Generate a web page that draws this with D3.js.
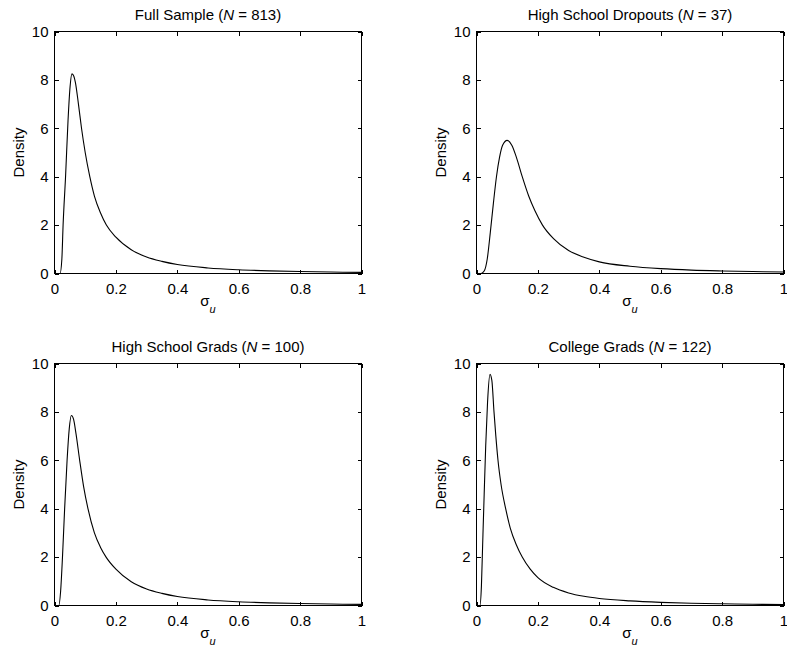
<!DOCTYPE html>
<html>
<head>
<meta charset="utf-8">
<script src="https://cdn.jsdelivr.net/npm/d3@7"></script>
<style>
  body { margin: 0; background: #fff; }
  svg text { font-family: "Liberation Sans", Arial, Helvetica, sans-serif; font-size: 15px; fill: #000; }
</style>
</head>
<body>
<svg id="chart" width="787" height="654"></svg>
<script>
// axis ticks
const xTicks = [0, 0.2, 0.4, 0.6, 0.8, 1];
const yTicks = [0, 2, 4, 6, 8, 10];

// panel titles and sample sizes
const titles = ['Full Sample', 'High School Dropouts', 'High School Grads', 'College Grads'];
const sampleN = [813, 37, 100, 122];

// density curves (sigma_u, density)
const sigmaFull   = [0, 0.018, 0.024, 0.028, 0.036, 0.044, 0.05, 0.057, 0.063, 0.068, 0.078, 0.088, 0.1, 0.115, 0.13, 0.15, 0.169, 0.2, 0.25, 0.3, 0.35, 0.4, 0.5, 0.6, 0.7, 0.8, 0.9, 1.0];
const densFull    = [0, 0,     0.6,   2.0,   4.0,   6.3,   7.6,  8.25,  8.15,  7.9,   7.0,   6.0,   5.0, 4.0,   3.2,  2.5,  2.0,   1.5, 0.98, 0.68, 0.5, 0.37, 0.23, 0.155, 0.11, 0.08, 0.06, 0.045];

const sigmaDrop   = [0, 0.015, 0.025, 0.035, 0.045, 0.055, 0.065, 0.075, 0.085, 0.1, 0.115, 0.13, 0.149, 0.17, 0.19, 0.215, 0.25, 0.3, 0.35, 0.4, 0.5, 0.6, 0.7, 0.8, 0.9, 1.0];
const densDrop    = [0, 0,     0.1,   0.6,   1.7,   2.9,   4.0,   4.8,   5.3,   5.5, 5.3,   4.8,  4.0,   3.2,  2.6,  2.0,   1.45, 0.95, 0.67, 0.48, 0.3, 0.2, 0.14, 0.105, 0.08, 0.06];

const sigmaHSGrad = [0, 0.014, 0.02, 0.026, 0.033, 0.041, 0.048, 0.055, 0.062, 0.07, 0.082, 0.095, 0.109, 0.13, 0.15, 0.168, 0.2, 0.25, 0.3, 0.35, 0.4, 0.5, 0.6, 0.7, 0.8, 0.9, 1.0];
const densHSGrad  = [0, 0,     0.6,  2.0,   4.0,   6.0,   7.3,   7.85,  7.7,   7.1,  6.0,   4.9,   4.0,   3.0,  2.4,  2.0,   1.5, 0.98, 0.68, 0.5, 0.37, 0.23, 0.155, 0.11, 0.08, 0.06, 0.045];

const sigmaColl   = [0, 0.011, 0.016, 0.02, 0.025, 0.03, 0.036, 0.044, 0.05, 0.057, 0.063, 0.07, 0.08, 0.095, 0.11, 0.13, 0.149, 0.175, 0.2, 0.25, 0.3, 0.35, 0.4, 0.5, 0.6, 0.7, 0.8, 0.9, 1.0];
const densColl    = [0, 0,     0.8,   2.5,  4.6,   6.6,  8.4,   9.55,  9.3,  8.0,   7.0,   6.0,  5.0,  4.0,   3.2,  2.5,  2.0,   1.5,   1.15, 0.75, 0.52, 0.38, 0.29, 0.19, 0.13, 0.09, 0.07, 0.05, 0.04];

const curves = [
  [sigmaFull, densFull],
  [sigmaDrop, densDrop],
  [sigmaHSGrad, densHSGrad],
  [sigmaColl, densColl]
];

const svg = d3.select('#chart');
const plotW = 307, plotH = 242;
const lefts = [54.5, 476.5];
const tops = [31.5, 363.5];
const tickLen = 4;

const x = d3.scaleLinear().domain([0, 1]).range([0, plotW]);
const y = d3.scaleLinear().domain([0, 10]).range([plotH, 0]);
const fmt = d => String(+d.toFixed(1));

const line = d3.line()
  .x(d => x(d[0]))
  .y(d => y(d[1]))
  .curve(d3.curveMonotoneX);

titles.forEach((title, i) => {
  const left = lefts[i % 2];
  const top = tops[Math.floor(i / 2)];
  const g = svg.append('g').attr('transform', 'translate(' + left + ',' + top + ')');

  // curve
  const pts = curves[i][0].map((s, k) => [s, curves[i][1][k]]);
  g.append('path')
    .datum(pts)
    .attr('fill', 'none')
    .attr('stroke', '#000')
    .attr('stroke-width', 1.1)
    .attr('d', line);

  // axes, MATLAB style with inward ticks on all four sides
  const xb = g.append('g')
    .attr('transform', 'translate(0,' + plotH + ')')
    .call(d3.axisBottom(x).tickValues(xTicks).tickSize(-tickLen).tickPadding(10).tickFormat(fmt));
  const xt = g.append('g')
    .call(d3.axisTop(x).tickValues(xTicks).tickSize(-tickLen).tickFormat(''));
  const yl = g.append('g')
    .call(d3.axisLeft(y).tickValues(yTicks).tickSize(-tickLen).tickPadding(6).tickFormat(fmt));
  const yr = g.append('g')
    .attr('transform', 'translate(' + plotW + ',0)')
    .call(d3.axisRight(y).tickValues(yTicks).tickSize(-tickLen).tickFormat(''));

  [xb, xt, yl, yr].forEach(a => {
    a.select('.domain').remove();
    a.selectAll('line').attr('stroke', '#000').attr('shape-rendering', 'crispEdges');
    a.selectAll('text').attr('font-size', null).attr('font-family', null).attr('fill', null);
  });
  xb.selectAll('text').attr('dy', '0.71em');

  g.append('rect')
    .attr('x', 0).attr('y', 0)
    .attr('width', plotW).attr('height', plotH)
    .attr('fill', 'none')
    .attr('stroke', '#000')
    .attr('stroke-width', 1);

  // title
  const t = g.append('text')
    .attr('x', plotW / 2)
    .attr('y', -12)
    .attr('text-anchor', 'middle');
  t.append('tspan').text(title + ' (');
  t.append('tspan').attr('font-style', 'italic').text('N');
  t.append('tspan').text(' = ' + sampleN[i] + ')');

  // y label
  g.append('text')
    .attr('transform', 'translate(-36,' + (plotH / 2) + ') rotate(-90)')
    .attr('text-anchor', 'middle')
    .attr('dy', '0.35em')
    .text('Density');

  // x label
  const xl = g.append('text')
    .attr('x', plotW / 2)
    .attr('y', plotH + 32)
    .attr('text-anchor', 'middle');
  xl.append('tspan').text('σ');
  xl.append('tspan')
    .attr('dy', 7)
    .attr('font-size', '11px')
    .attr('font-style', 'italic')
    .text('u');
});
</script>
</body>
</html>
